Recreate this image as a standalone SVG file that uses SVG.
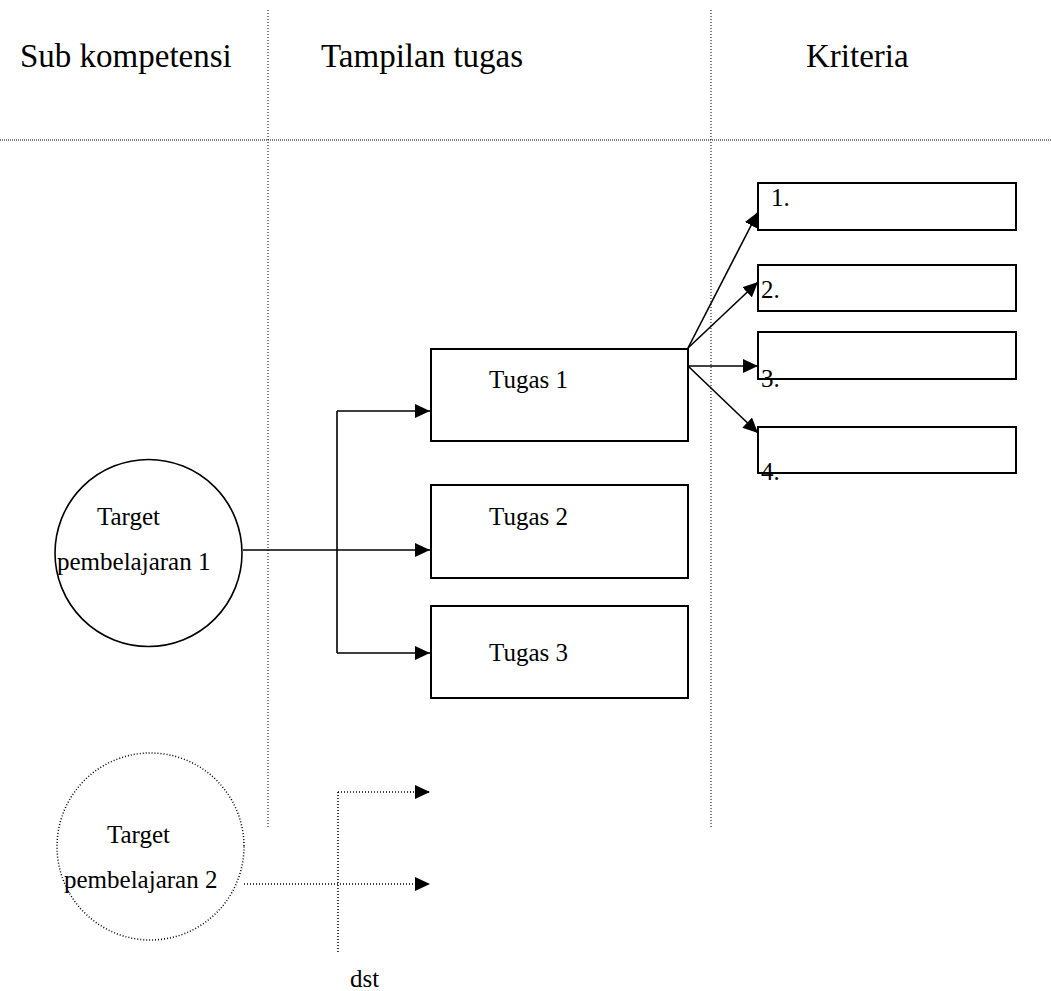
<svg xmlns="http://www.w3.org/2000/svg" width="1051" height="991" viewBox="0 0 1051 991">
  <style>
    text { font-family: "Liberation Serif", "Times New Roman", serif; fill: #000; }
    .hdr { font-size: 33px; }
    .lbl { font-size: 25px; }
    .box { fill: none; stroke: #000; stroke-width: 2; }
    .node { fill: none; stroke: #000; stroke-width: 1.6; }
    .node-dot { fill: none; stroke: #000; stroke-width: 1.5; stroke-dasharray: 1 2; }
    .grid { fill: none; stroke: #000; stroke-width: 1; stroke-dasharray: 1 2; }
    .grid-h { fill: none; stroke: #000; stroke-width: 1; stroke-dasharray: 1 1; }
    .link { fill: none; stroke: #000; stroke-width: 1.6; }
    .link-dot { fill: none; stroke: #000; stroke-width: 1.5; stroke-dasharray: 1 2; }
  </style>
  <defs>
    <marker id="arrow" viewBox="0 0 15 14" refX="15" refY="7" markerWidth="15" markerHeight="14" markerUnits="userSpaceOnUse" orient="auto">
      <path d="M0,0 L15,7 L0,14 z" fill="#000"/>
    </marker>
  </defs>

  <rect width="1051" height="991" fill="#fff"/>

  <!-- column grid -->
  <g id="grid">
    <line class="grid" x1="268" y1="10" x2="268" y2="828"/>
    <line class="grid" x1="711" y1="10" x2="711" y2="828"/>
    <line class="grid-h" x1="0" y1="140" x2="1051" y2="140"/>
    <text class="hdr" x="20" y="67">Sub kompetensi</text>
    <text class="hdr" x="321" y="67">Tampilan tugas</text>
    <text class="hdr" x="806" y="67">Kriteria</text>
  </g>

  <!-- connectors -->
  <g id="connectors">
    <path class="link" d="M243,550 H430" marker-end="url(#arrow)"/>
    <path class="link" d="M337,411 V653"/>
    <path class="link" d="M337,411 H430" marker-end="url(#arrow)"/>
    <path class="link" d="M337,653 H430" marker-end="url(#arrow)"/>

    <path class="link" d="M688,348 L758,212" marker-end="url(#arrow)"/>
    <path class="link" d="M688,348 L758,282" marker-end="url(#arrow)"/>
    <path class="link" d="M688,366 L758,366" marker-end="url(#arrow)"/>
    <path class="link" d="M688,366 L758,433" marker-end="url(#arrow)"/>

    <path class="link-dot" d="M244,884 H430" marker-end="url(#arrow)"/>
    <path class="link-dot" d="M338,792 V953"/>
    <path class="link-dot" d="M338,792 H430" marker-end="url(#arrow)"/>
    <text class="lbl" x="350" y="987">dst</text>
  </g>

  <!-- learning targets -->
  <g id="target1">
    <circle class="node" cx="148.5" cy="553" r="93.5"/>
    <text class="lbl" x="97" y="525">Target</text>
    <text class="lbl" x="57" y="570">pembelajaran 1</text>
  </g>
  <g id="target2">
    <circle class="node-dot" cx="150.5" cy="846.5" r="93.5"/>
    <text class="lbl" x="107" y="843">Target</text>
    <text class="lbl" x="64" y="888">pembelajaran 2</text>
  </g>

  <!-- tasks -->
  <g id="tugas1">
    <rect class="box" x="431" y="349" width="257" height="92"/>
    <text class="lbl" x="489" y="388">Tugas 1</text>
  </g>
  <g id="tugas2">
    <rect class="box" x="431" y="485" width="257" height="93"/>
    <text class="lbl" x="489" y="525">Tugas 2</text>
  </g>
  <g id="tugas3">
    <rect class="box" x="431" y="606" width="257" height="92"/>
    <text class="lbl" x="489" y="661">Tugas 3</text>
  </g>

  <!-- criteria -->
  <g id="kriteria1">
    <rect class="box" x="758" y="183" width="258" height="47"/>
    <text class="lbl" x="771" y="206">1.</text>
  </g>
  <g id="kriteria2">
    <rect class="box" x="758" y="265" width="258" height="46"/>
    <text class="lbl" x="761" y="298">2.</text>
  </g>
  <g id="kriteria3">
    <rect class="box" x="758" y="332" width="258" height="47"/>
    <text class="lbl" x="761" y="387">3.</text>
  </g>
  <g id="kriteria4">
    <rect class="box" x="758" y="427" width="258" height="46"/>
    <text class="lbl" x="761" y="480">4.</text>
  </g>
</svg>
